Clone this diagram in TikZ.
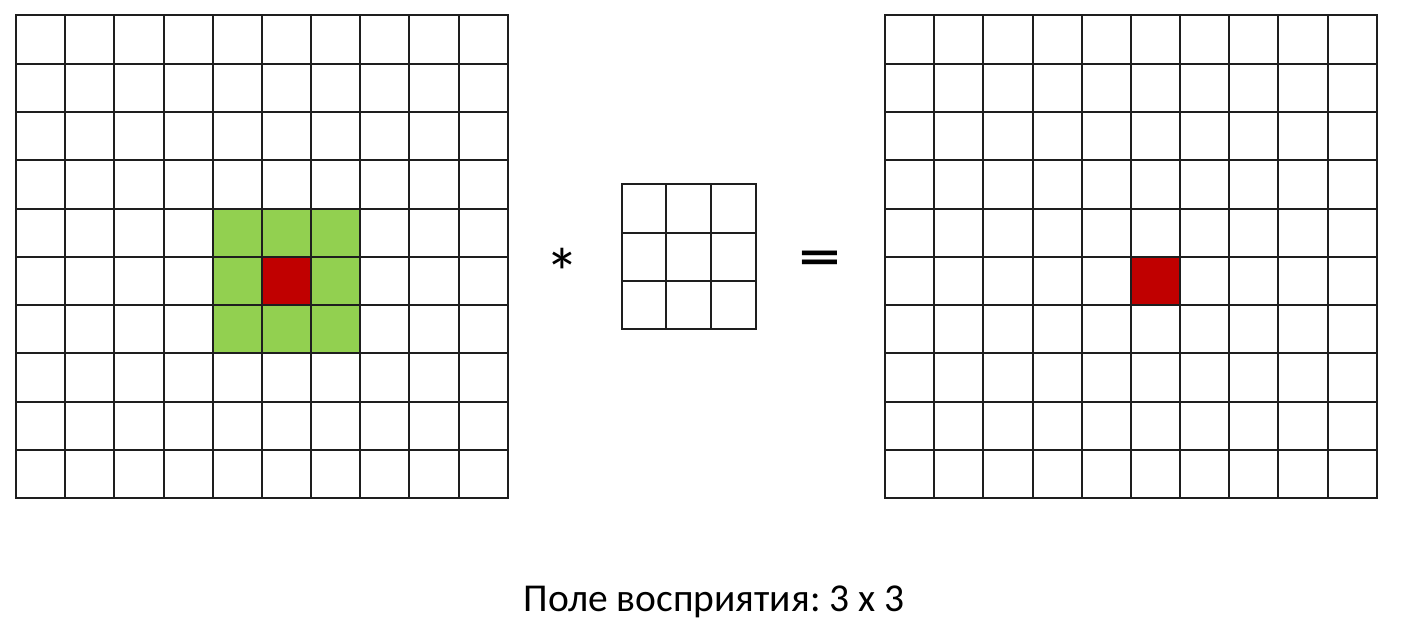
\documentclass[tikz,border=0pt]{standalone}
\usepackage{graphicx}
\usepackage{fontspec}
\setmainfont{Carlito}
\newfontfamily\signefont{DejaVu Sans}
\definecolor{VertChamp}{HTML}{92D050}
\definecolor{RougeCentre}{HTML}{C00000}
\definecolor{TraitGrille}{HTML}{1E1E1E}
\usetikzlibrary{positioning}
\tikzset{
	grille/.style={line width=2pt, TraitGrille, line cap=rect},
	signe/.style={inner sep=0pt, text=black}
}
\frenchspacing
\begin{document}
\begin{tikzpicture}[x=1pt,y=-1pt]
	\useasboundingbox (0,0) rectangle (1405,627);
	%
	%Entree 10x10
	\begin{scope}[shift={(16,15.3)}, xscale=49.17, yscale=48.3]
		\fill[VertChamp] (4,4) rectangle (7,7);
		\fill[RougeCentre] (5,5) rectangle (6,6);
		\foreach \i in {0,...,10}
			\draw[grille] (\i,0) -- (\i,10) (0,\i) -- (10,\i);
	\end{scope}
	%
	%Noyau 3x3
	\begin{scope}[shift={(621.7,184.3)}, xscale=44.67, yscale=48.33]
		\foreach \i in {0,...,3}
			\draw[grille] (\i,0) -- (\i,3) (0,\i) -- (3,\i);
	\end{scope}
	%
	%Sortie 10x10
	\begin{scope}[shift={(885,15.3)}, xscale=49.17, yscale=48.3]
		\fill[RougeCentre] (5,5) rectangle (6,6);
		\foreach \i in {0,...,10}
			\draw[grille] (\i,0) -- (\i,10) (0,\i) -- (10,\i);
	\end{scope}
	%
	\node[signe, font=\fontsize{68}{72}\selectfont] (etoile) at (562.5,272.2) {*};
	\node[signe, font=\signefont\bfseries\fontsize{56}{60}\selectfont] (egal) at (819.7,261) {\scalebox{1}[0.72]{=}};
	\node[anchor=base, font=\fontsize{39.5}{46}\selectfont] (legende) at (714,611.7) {Поле восприятия: 3 х 3};
	%
\end{tikzpicture}
\end{document}
